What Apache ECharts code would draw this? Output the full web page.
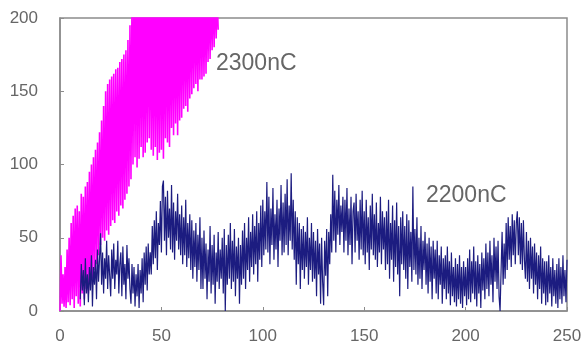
<!DOCTYPE html>
<html>
<head>
<meta charset="utf-8">
<script src="https://cdn.jsdelivr.net/npm/echarts@6/dist/echarts.min.js"></script>
<style>
  html, body { margin: 0; padding: 0; background: #fff; }
  #chart { width: 585px; height: 351px; }
</style>
</head>
<body>
<div id="chart"></div>
<script>
// x ticks and y ticks
const xTicks = [0, 50, 100, 150, 200, 250]
const yTicks = [0, 50, 100, 150, 200]

// sample spacing of both traces
const sampleStep = 0.5

// 2300nC trace from x = 0 (values above 200 run off the top)
const magentaStartX = 0
const magentaY = [
  0, 38, 5, 25, 3, 30, 2, 42, 6, 50,
  4, 60, 8, 65, 2, 70, 10, 72, 5, 68,
  3, 80, 12, 78, 8, 85, 15, 88, 12, 95,
  18, 100, 22, 105, 28, 110, 32, 115, 38, 122,
  45, 130, 50, 140, 48, 150, 55, 155, 52, 158,
  58, 160, 62, 162, 60, 165, 68, 166, 65, 170,
  72, 172, 70, 175, 76, 178, 80, 185, 85, 195,
  90, 215, 100, 230, 105, 230, 98, 230, 104, 230,
  112, 230, 105, 230, 108, 230, 115, 230, 118, 230,
  110, 230, 106, 230, 112, 230, 103, 230, 108, 230,
  110, 230, 104, 230, 118, 230, 115, 230, 112, 230,
  125, 230, 120, 230, 128, 230, 120, 230, 130, 230,
  132, 230, 138, 230, 140, 230, 136, 230, 145, 230,
  148, 230, 152, 230, 155, 230, 150, 230, 158, 230,
  158, 230, 160, 230, 162, 230, 170, 230, 172, 230,
  178, 230, 180, 230, 186, 215,
  192
]

// 2200nC trace from x = 10
const navyStartX = 10
const navyY = [
  8, 32, 14, 28, 4, 36, 12, 25, 6, 30,
  14, 38, 3, 30, 18, 35, 8, 42, 20, 36,
  53, 18, 40, 12, 36, 22, 48, 15, 38, 24,
  10, 42, 22, 46, 15, 35, 25, 48, 12, 32,
  40, 10, 44, 18, 32, 8, 45, 22, 36, 15,
  5, 32, 12, 30, 3, 25, 10, 32, 2, 28,
  12, 36, 6, 40, 18, 44, 14, 46, 25, 40,
  25, 58, 32, 62, 36, 68, 28, 60, 45, 75,
  40, 85, 89, 48, 78, 38, 82, 50, 70, 42,
  86, 40, 74, 35, 68, 48, 80, 42, 66, 38,
  72, 32, 64, 38, 76, 30, 60, 36, 66, 28,
  62, 22, 55, 30, 60, 20, 52, 28, 64, 15,
  50, 15, 55, 22, 46, 8, 42, 20, 58, 12,
  45, 18, 52, 5, 40, 20, 54, 15, 42, 22,
  50, 12, 56, 0, 45, 18, 52, 22, 60, 15,
  48, 20, 56, 10, 44, 22, 50, 5, 45, 18,
  55, 22, 60, 15, 50, 28, 64, 20, 54, 30,
  66, 25, 58, 32, 68, 20, 60, 35, 72, 30,
  76, 38, 68, 42, 88, 40, 78, 32, 70, 45,
  84, 35, 66, 42, 76, 30, 70, 48, 86, 38,
  74, 40, 80, 45, 90, 38, 72, 48, 94, 42,
  76, 35, 68, 18, 64, 32, 60, 15, 56, 28,
  58, 22, 54, 30, 64, 18, 50, 28, 60, 20,
  54, 22, 48, 10, 56, 25, 46, 5, 50, 20,
  4, 48, 24, 56, 10, 54, 32, 66, 40, 93,
  48, 82, 40, 76, 52, 86, 45, 72, 54, 78,
  40, 76, 48, 84, 38, 70, 45, 78, 32, 68,
  74, 40, 80, 48, 68, 35, 76, 42, 82, 38,
  68, 32, 76, 40, 64, 28, 72, 42, 80, 38,
  66, 35, 74, 30, 60, 40, 78, 32, 68, 42,
  64, 28, 68, 32, 76, 22, 60, 35, 72, 20,
  62, 30, 74, 25, 58, 10, 64, 32, 68, 28,
  58, 22, 66, 15, 62, 30, 54, 20, 85, 28,
  56, 25, 64, 18, 50, 22, 58, 15, 48, 28,
  54, 18, 46, 12, 50, 20, 44, 8, 48, 22,
  42, 12, 48, 8, 38, 18, 44, 5, 36, 15,
  38, 8, 44, 12, 34, 4, 40, 10, 30, 6,
  36, 3, 32, 8, 38, 5, 30, 2, 34, 10,
  30, 4, 36, 8, 42, 6, 34, 12, 44, 8,
  34, 3, 38, 12, 32, 2, 40, 14, 36, 8,
  46, 15, 40, 10, 48, 18, 38, 6, 50, 20,
  44, 15, 48, 10, 0, 28, 54, 18, 46, 22,
  60, 28, 64, 35, 58, 30, 66, 38, 62, 32,
  60, 68, 38, 64, 32, 60, 28, 62, 35, 22,
  54, 20, 48, 15, 50, 22, 44, 12, 46, 18,
  40, 8, 38, 15, 44, 5, 36, 12, 34, 4,
  34, 6, 38, 12, 30, 3, 36, 10, 28, 5,
  32, 2, 36, 8, 30, 5, 38, 10, 28, 6,
  35
]

const toPairs = (startX, ys) => ys.map((y, i) => [startX + i * sampleStep, y])

const chart = echarts.init(document.getElementById('chart'))

const axisGray = '#8c8c8c'
const labelStyle = { color: '#666', fontSize: 17, fontFamily: 'Liberation Sans' }

chart.setOption({
  animation: false,
  grid: {
    left: 60, top: 18, right: 18, bottom: 40,
    show: true, borderColor: axisGray, borderWidth: 1.5, backgroundColor: '#fff'
  },
  xAxis: {
    type: 'value',
    min: xTicks[0], max: xTicks[xTicks.length - 1], interval: 50,
    axisLine: { show: true, lineStyle: { color: axisGray, width: 1.5 } },
    axisTick: { show: true, inside: true, length: 4, lineStyle: { color: axisGray } },
    splitLine: { show: false },
    axisLabel: { ...labelStyle, margin: 17 }
  },
  yAxis: {
    type: 'value',
    min: yTicks[0], max: yTicks[yTicks.length - 1], interval: 50,
    axisLine: { show: true, lineStyle: { color: axisGray, width: 1.5 } },
    axisTick: { show: true, inside: true, length: 4, lineStyle: { color: axisGray } },
    splitLine: { show: false },
    axisLabel: { ...labelStyle, margin: 22 }
  },
  series: [
    {
      name: '2300nC',
      type: 'line',
      data: toPairs(magentaStartX, magentaY),
      showSymbol: false,
      clip: true,
      lineStyle: { color: '#ff00ff', width: 1.6 }
    },
    {
      name: '2200nC',
      type: 'line',
      data: toPairs(navyStartX, navyY),
      showSymbol: false,
      clip: true,
      lineStyle: { color: '#1c1c80', width: 1.2 }
    }
  ],
  graphic: [
    {
      type: 'text', left: 216, top: 52,
      style: { text: '2300nC', fill: '#666', fontSize: 23, fontFamily: 'Liberation Sans' }
    },
    {
      type: 'text', left: 426, top: 184,
      style: { text: '2200nC', fill: '#666', fontSize: 23, fontFamily: 'Liberation Sans' }
    }
  ]
})
</script>
</body>
</html>
